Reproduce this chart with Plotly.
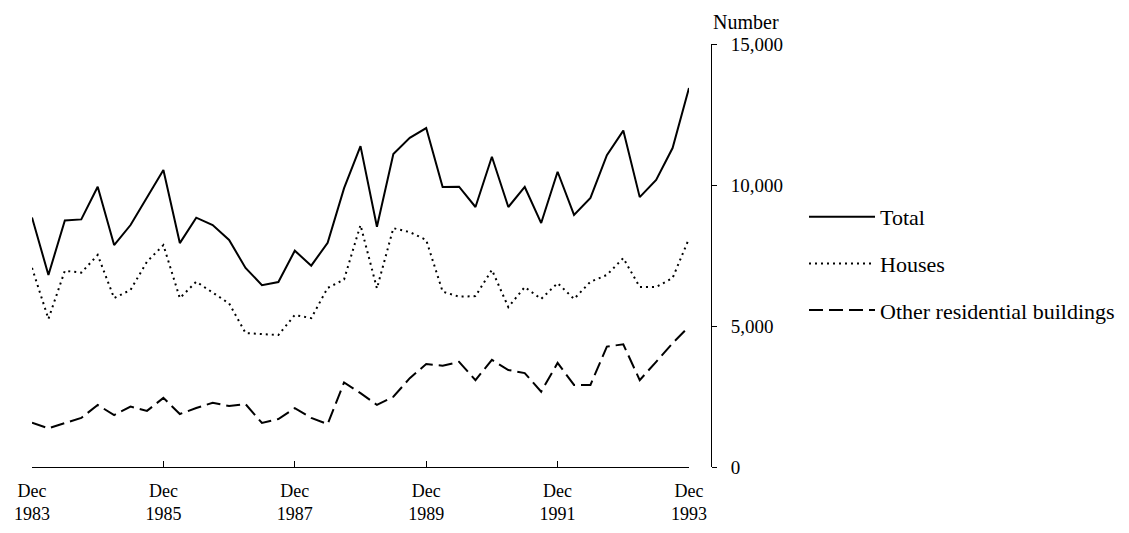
import plotly.graph_objects as go

# Quarterly observations, Dec 1983 .. Dec 1993 (41 quarters)
start_year = 1983
quarter_months = ["Dec", "Mar", "Jun", "Sep"]
periods = []
for i in range(41):
    m = quarter_months[i % 4]
    y = start_year + (i + 3) // 4 if i % 4 != 0 else start_year + i // 4
    periods.append(f"{m} {y}")

total = [8850, 6810, 8740, 8780, 9940, 7870, 8580, 9540, 10530, 7940,
         8840, 8580, 8050, 7060, 6450, 6560, 7670, 7140, 7950, 9890,
         11380, 8520, 11100, 11670, 12020, 9930, 9940, 9220, 11000, 9220,
         9930, 8650, 10470, 8940, 9540, 11060, 11930, 9570, 10180, 11310,
         13440]
houses = [7060, 5250, 6960, 6890, 7520, 5990, 6280, 7280, 7870, 5990,
          6570, 6170, 5800, 4750, 4720, 4680, 5390, 5280, 6350, 6650,
          8580, 6330, 8470, 8330, 8050, 6220, 6040, 6060, 6990, 5670,
          6380, 5960, 6520, 5960, 6570, 6810, 7410, 6380, 6380, 6700,
          8100]
other = [1570, 1370, 1560, 1740, 2200, 1840, 2140, 1990, 2450, 1880,
         2090, 2280, 2160, 2230, 1560, 1700, 2090, 1740, 1520, 3000,
         2620, 2200, 2490, 3150, 3650, 3590, 3730, 3080, 3800, 3440,
         3330, 2670, 3690, 2910, 2910, 4270, 4350, 3080, 3730, 4390,
         4980]

tick_idx = [0, 8, 16, 24, 32, 40]
tick_text = ["Dec<br>1983", "Dec<br>1985", "Dec<br>1987", "Dec<br>1989", "Dec<br>1991", "Dec<br>1993"]
y_ticks = [0, 5000, 10000, 15000]

FONT = "Liberation Serif, Times New Roman, serif"
x = list(range(len(periods)))

fig = go.Figure()
fig.add_trace(go.Scatter(x=x, y=total, mode="lines", name="Total",
                         line=dict(color="black", width=2), legendgroup="a",
                         customdata=periods))
fig.add_trace(go.Scatter(x=x, y=houses, mode="lines", name="Houses",
                         line=dict(color="black", width=2, dash="2px,4px"), legendgroup="b",
                         customdata=periods))
fig.add_trace(go.Scatter(x=x, y=other, mode="lines", name="Other residential buildings",
                         line=dict(color="black", width=2, dash="14px,6px"), legendgroup="c",
                         customdata=periods))

# page body has an 8px margin; figure sized so it fits the 1129x533 window
W, H = 1121, 525
L, R, T, B = 24, 418, 36, 66
pw = W - L - R
ph = H - T - B

fig.update_layout(
    width=W, height=H,
    margin=dict(l=L, r=R, t=T, b=B, autoexpand=False),
    plot_bgcolor="white", paper_bgcolor="white",
    font=dict(family=FONT, size=18, color="black"),
    showlegend=True,
    legend=dict(xref="container", yref="container",
                x=796 / W, y=1 - 188 / H, xanchor="left", yanchor="top",
                tracegroupgap=15, font=dict(family=FONT, size=22, color="black"),
                bgcolor="rgba(0,0,0,0)", itemwidth=66),
    xaxis=dict(domain=[0, 657 / pw], range=[0, 40], showline=True, linecolor="black",
               linewidth=1, ticks="inside", ticklen=6, tickcolor="black",
               tickvals=tick_idx, ticktext=tick_text, showgrid=False, zeroline=False,
               automargin=False, ticklabelstandoff=7, tickfont=dict(family=FONT, size=18)),
    yaxis=dict(range=[0, 15000], anchor="free", position=1, side="right",
               showline=True, linecolor="black", linewidth=1, ticks="outside",
               ticklen=5, tickcolor="black", tickvals=y_ticks, tickformat=",",
               showgrid=False, zeroline=False, ticklabelstandoff=10, automargin=False,
               tickfont=dict(family=FONT, size=19)),
    annotations=[dict(text="Number", xref="paper", yref="paper",
                      x=(703 - L) / pw, y=(H - B - 14) / ph, xanchor="left",
                      yanchor="middle", showarrow=False,
                      font=dict(family=FONT, size=20))],
)

fig.write_html("out.html")
